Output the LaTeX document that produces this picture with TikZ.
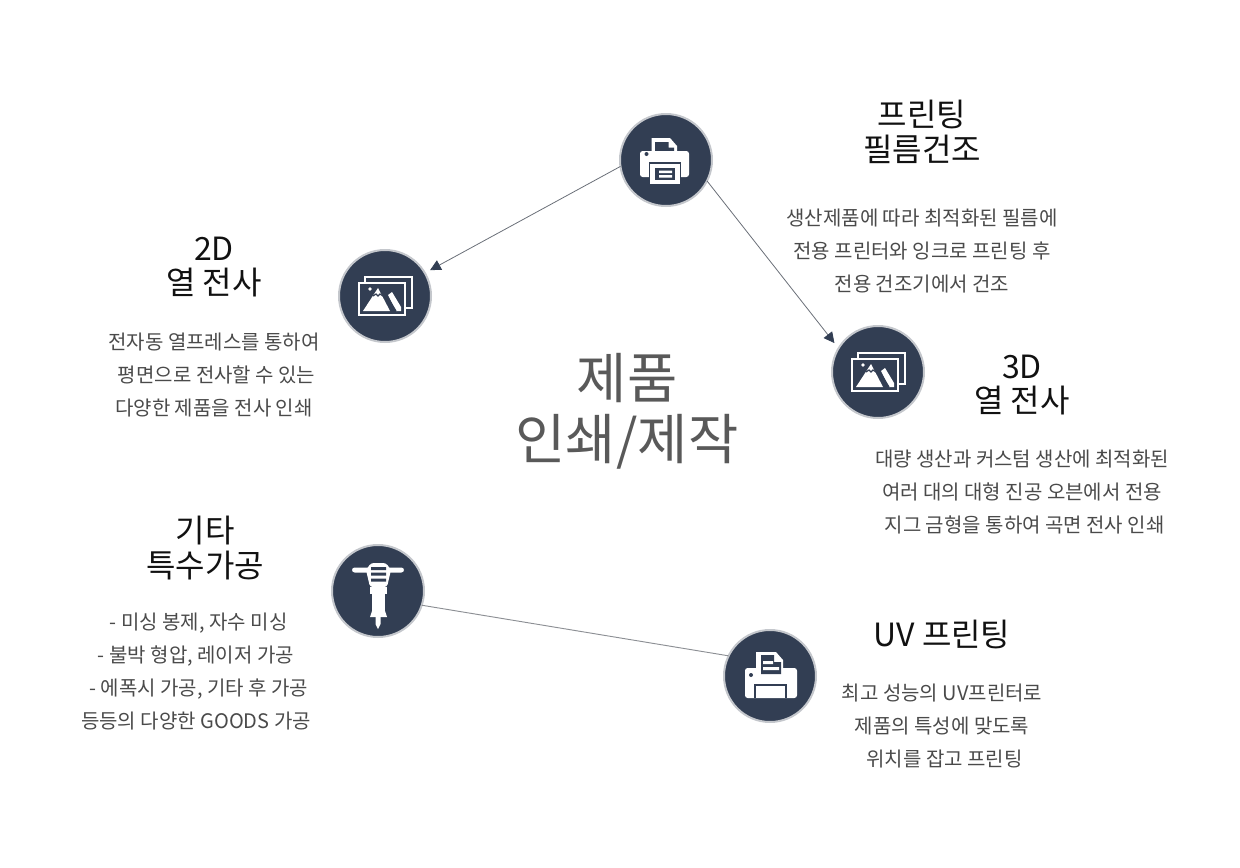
\documentclass[tikz,border=0pt]{standalone}
\usepackage{xcolor}
\usepackage{fontspec}
\setmainfont{Noto Sans CJK KR}
\usetikzlibrary{arrows.meta}
\definecolor{printNavy}{HTML}{323E53}
\definecolor{printRing}{HTML}{C4C7CC}
\definecolor{printLine}{HTML}{6A6F78}
\definecolor{printLineSoft}{HTML}{8C8F94}
\definecolor{printText}{HTML}{4A4A4A}
\definecolor{printHead}{HTML}{111111}
\definecolor{printTitle}{HTML}{595959}

\begin{document}
\begin{tikzpicture}[
  x=0.75pt, y=-0.75pt,
  every node/.style={inner sep=0pt, outer sep=0pt},
  iconcirc/.style={
    circle, minimum size=92pt*0.75, fill=printNavy, draw=printRing, line width=1.5pt
  },
  headtext/.style={
    text=printHead, align=center, font=\fontsize{24}{26}\selectfont
  },
  bodytext/.style={
    text=printText, align=center, font=\fontsize{15}{24.75}\selectfont
  },
  conn/.style={printLineSoft, line width=0.7pt},
  connarrow/.style={
    -{Triangle[length=8pt, width=8pt, color=printNavy]}, printLine, line width=0.6pt
  },
  pics/fileprinter/.style={code={
    \fill[white] (-14.5,-22) -- (4,-22) -- (11,-14) -- (11,-7) -- (-14.5,-7) -- cycle;
    \fill[printNavy] (-11,-18) -- (2.5,-18) -- (2.5,-12.5) -- (8,-12.5) -- (8,-9) -- (-11,-9) -- cycle;
    \fill[white, rounded corners=2pt] (-26,-9) rectangle (23,17);
    \fill[printNavy] (-19.5,-6) circle (2);
    \fill[white, draw=printNavy, line width=0.9pt] (-16.5,3) rectangle (14.5,25);
    \fill[printNavy] (-11,8) rectangle (9,20);
    \fill[white] (-7,10.5) rectangle (6,13) (-7,15) rectangle (6,17.5);
  }},
  pics/photostack/.style={code={
    \draw[white, line width=1.7pt] (-20,-13) -- (-20,-19) -- (27,-19) -- (27,12) -- (20,12);
    \draw[white, line width=2.2pt] (-26,-13) rectangle (20,19);
    \fill[white] (-15,-7) circle (1.8);
    \fill[white] (5,15) -- (-22,15) -- (-7,-8) -- cycle;
    \fill[white] (3,-1) -- (7,-4) -- (16,11) -- (16,15) -- (11,15) -- cycle;
    \draw[printNavy, line width=0.9pt] (-12,0) -- (-9,-2) -- (-7,0) -- (-5,-2) -- (-2,0);
    \draw[printNavy, line width=0.9pt] (0,-3) -- (11,15);
  }},
  pics/jackhammer/.style={code={
    \fill[white, rounded corners=2pt] (-26,-23.5) rectangle (26,-18.5);
    \fill[white, rounded corners=2pt] (-7,-28) -- (8,-28) -- (13,-21) -- (9,-4) -- (-8,-4) -- (-12,-21) -- cycle;
    \fill[printNavy] (-7,-24) rectangle (8,-21) (-7,-18.5) rectangle (8,-15.5) (-7,-12.5) rectangle (8,-9.5);
    \fill[white] (-8,-4) rectangle (9,3);
    \fill[white] (-6,3) rectangle (7,20);
    \fill[white] (-6,20) -- (7,20) -- (9,26) -- (-8,26) -- cycle;
    \fill[white] (-2.5,26) -- (2.5,26) -- (2.5,33) -- (0,38) -- (-2.5,33) -- cycle;
  }},
  pics/docprinter/.style={code={
    \fill[white, rounded corners=2pt] (-25,-8) rectangle (27,22);
    \fill[white] (-14,-24) -- (6,-24) -- (13,-16) -- (13,-6) -- (-14,-6) -- cycle;
    \fill[printNavy] (-9,-21) -- (4,-21) -- (4,-14) -- (11,-14) -- (11,-2) -- (-9,-2) -- cycle;
    \fill[white] (-7,-15) rectangle (3,-12) (-7,-9) rectangle (9,-6);
    \fill[printNavy] (-19,-1) circle (2);
    \fill[printNavy] (-16,8) rectangle (17,22);
    \fill[white] (-14,10) rectangle (15,22);
  }},
]
\useasboundingbox (0,0) rectangle (1240,868);

% Icon circles
\node[iconcirc] (printer) at (666,160) {};
\node[iconcirc] (photoflat) at (385,296) {};
\node[iconcirc] (photocurve) at (878,372) {};
\node[iconcirc] (jack) at (378,591) {};
\node[iconcirc] (uvprinter) at (770,676) {};

\pic at (printer) {fileprinter};
\pic at (photoflat) {photostack};
\pic at (photocurve) {photostack};
\pic at (jack) {jackhammer};
\pic at (uvprinter) {docprinter};

% Connectors
\draw[connarrow, shorten >=4.5pt] (printer.188) -- (photoflat.30);
\draw[connarrow, shorten >=5pt] (printer.-27) -- (photocurve.149);
\draw[conn] (jack.-18) -- (uvprinter.154);

% Centre label
\node[text=printTitle, align=center, font=\fontsize{41}{46}\selectfont] (maintitle) at (627,411) {제품\\인쇄/제작};

% Printing film
\node[headtext] (filmhead) at (922,132) {프린팅\\필름건조};
\node[bodytext] (filmbody) at (922,251) {생산제품에 따라 최적화된 필름에\\전용 프린터와 잉크로 프린팅 후\\전용 건조기에서 건조};

% 2D transfer
\node[headtext] (flathead) at (214,267) {2D\\열 전사};
\node[bodytext] (flatbody) at (214,375) {전자동 열프레스를 통하여\\\hspace*{4pt}평면으로 전사할 수 있는\\다양한 제품을 전사 인쇄};

% 3D transfer
\node[headtext] (curvehead) at (1022,385) {3D\\열 전사};
\node[bodytext] (curvebody) at (1022,492) {대량 생산과 커스텀 생산에 최적화된\\여러 대의 대형 진공 오븐에서 전용\\\hspace*{4pt}지그 금형을 통하여 곡면 전사 인쇄};

% Special processing
\node[headtext] (etchead) at (205,548) {기타\\특수가공};
\node[bodytext] (etcbody) at (196,672) {\hspace*{4pt}- 미싱 봉제, 자수 미싱\\- 불박 형압, 레이저 가공\\\hspace*{4pt}- 에폭시 가공, 기타 후 가공\\등등의 다양한 GOODS 가공};

% UV printing
\node[headtext] (uvhead) at (942,634) {UV 프린팅};
\node[bodytext] (uvbody) at (942,726) {최고 성능의 UV프린터로\\제품의 특성에 맞도록\\\hspace*{4pt}위치를 잡고 프린팅};

\end{tikzpicture}
\end{document}
